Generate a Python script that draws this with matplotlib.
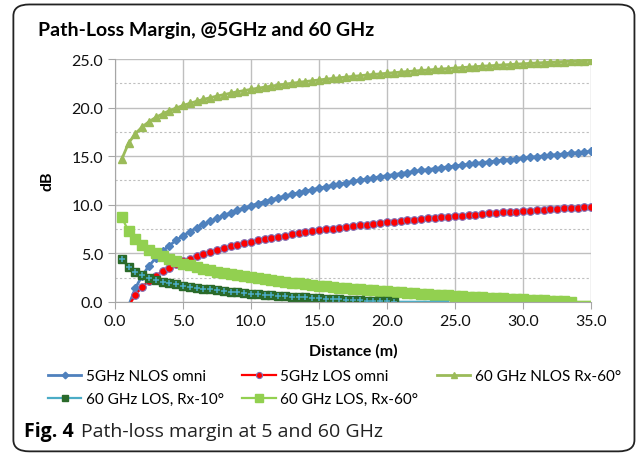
import matplotlib.pyplot as plt
from matplotlib.patches import FancyBboxPatch

plt.rcParams["font.family"] = ["Lato", "DejaVu Sans"]

# distance grid (m)
distance = [0.5, 1.0, 1.5, 2.0, 2.5, 3.0, 3.5, 4.0, 4.5, 5.0,
            5.5, 6.0, 6.5, 7.0, 7.5, 8.0, 8.5, 9.0, 9.5, 10.0,
            10.5, 11.0, 11.5, 12.0, 12.5, 13.0, 13.5, 14.0, 14.5, 15.0,
            15.5, 16.0, 16.5, 17.0, 17.5, 18.0, 18.5, 19.0, 19.5, 20.0,
            20.5, 21.0, 21.5, 22.0, 22.5, 23.0, 23.5, 24.0, 24.5, 25.0,
            25.5, 26.0, 26.5, 27.0, 27.5, 28.0, 28.5, 29.0, 29.5, 30.0,
            30.5, 31.0, 31.5, 32.0, 32.5, 33.0, 33.5, 34.0, 34.5, 35.0]

# 5 GHz series start at 1.0 m (first value lies under the axis)
nlos_5g = [-0.40, 1.41, 2.70, 3.70, 4.51, 5.20, 5.80, 6.33, 6.80,
           7.23, 7.61, 7.97, 8.30, 8.61, 8.90, 9.17, 9.43, 9.67, 9.90,
           10.12, 10.33, 10.53, 10.72, 10.90, 11.07, 11.24, 11.41, 11.56, 11.71,
           11.86, 12.00, 12.14, 12.27, 12.40, 12.53, 12.65, 12.77, 12.89, 13.00,
           13.11, 13.22, 13.32, 13.43, 13.53, 13.63, 13.72, 13.82, 13.91, 14.00,
           14.09, 14.17, 14.26, 14.34, 14.43, 14.51, 14.59, 14.66, 14.74, 14.81,
           14.89, 14.96, 15.03, 15.10, 15.17, 15.24, 15.31, 15.37, 15.44, 15.50]
los_5g = [-0.47, 0.70, 1.53, 2.18, 2.70, 3.15, 3.53, 3.87, 4.18,
          4.45, 4.70, 4.94, 5.15, 5.35, 5.54, 5.71, 5.88, 6.03, 6.18,
          6.32, 6.46, 6.58, 6.71, 6.82, 6.94, 7.05, 7.15, 7.25, 7.35,
          7.45, 7.54, 7.63, 7.71, 7.80, 7.88, 7.96, 8.03, 8.11, 8.18,
          8.25, 8.32, 8.39, 8.46, 8.52, 8.59, 8.65, 8.71, 8.77, 8.83,
          8.88, 8.94, 8.99, 9.05, 9.10, 9.15, 9.21, 9.26, 9.30, 9.35,
          9.40, 9.45, 9.49, 9.54, 9.58, 9.63, 9.67, 9.71, 9.76, 9.80]
nlos_60_rx60 = [14.70, 16.36, 17.33, 18.02, 18.56, 19.00, 19.37, 19.69, 19.97, 20.23,
                20.45, 20.66, 20.86, 21.03, 21.20, 21.35, 21.50, 21.64, 21.77, 21.89,
                22.01, 22.12, 22.23, 22.33, 22.43, 22.52, 22.61, 22.70, 22.78, 22.86,
                22.94, 23.02, 23.09, 23.16, 23.23, 23.30, 23.37, 23.43, 23.49, 23.55,
                23.61, 23.67, 23.73, 23.78, 23.84, 23.89, 23.94, 23.99, 24.04, 24.09,
                24.14, 24.18, 24.23, 24.28, 24.32, 24.36, 24.41, 24.45, 24.49, 24.53,
                24.57, 24.61, 24.65, 24.68, 24.72, 24.76, 24.79, 24.83, 24.86, 24.90]
# LOS Rx-10: markers up to 20.5 m, line runs on the axis to 24.5 m
los_60_rx10 = [4.40, 3.58, 3.10, 2.76, 2.49, 2.28, 2.09, 1.94, 1.80, 1.67,
               1.56, 1.46, 1.36, 1.27, 1.19, 1.11, 1.04, 0.97, 0.91, 0.85,
               0.79, 0.74, 0.68, 0.63, 0.59, 0.54, 0.49, 0.45, 0.41, 0.37,
               0.33, 0.29, 0.26, 0.22, 0.19, 0.15, 0.12, 0.09, 0.06, 0.03,
               0.00, 0.0, 0.0, 0.0, 0.0, 0.0, 0.0, 0.0, 0.0]
# LOS Rx-60: markers up to 33.5 m, line on the axis to 35 m
los_60_rx60 = [8.70, 7.27, 6.43, 5.84, 5.38, 5.00, 4.68, 4.40, 4.16, 3.94,
               3.75, 3.57, 3.40, 3.25, 3.10, 2.97, 2.85, 2.73, 2.62, 2.51,
               2.41, 2.31, 2.22, 2.13, 2.05, 1.97, 1.89, 1.81, 1.74, 1.67,
               1.60, 1.54, 1.47, 1.41, 1.35, 1.30, 1.24, 1.18, 1.13, 1.08,
               1.03, 0.98, 0.93, 0.88, 0.83, 0.79, 0.74, 0.70, 0.66, 0.62,
               0.58, 0.54, 0.50, 0.46, 0.42, 0.38, 0.34, 0.31, 0.27, 0.24,
               0.20, 0.17, 0.14, 0.10, 0.07, 0.04, 0.01, 0.0, 0.0, 0.0]

labels = ["5GHz NLOS omni", "5GHz LOS omni", "60 GHz NLOS Rx-60°",
          "60 GHz LOS, Rx-10°", "60 GHz LOS, Rx-60°"]
x_ticks = [0, 5, 10, 15, 20, 25, 30, 35]
y_ticks = [0, 5, 10, 15, 20, 25]

fig = plt.figure(figsize=(6.37, 4.56), dpi=100)
ax = fig.add_axes([0.1805, 0.336, 0.7475, 0.532])

d5 = distance[1:]
n10 = len(los_60_rx10)
n60 = len(los_60_rx60)

h0, = ax.plot(d5, nlos_5g, color="#4F81BD", lw=2.0, marker="D", ms=4.2,
              label=labels[0])
h1, = ax.plot(d5, los_5g, color="#FF0000", lw=1.6, marker="o", ms=5.5,
              mfc="#FF0000", mec="#7F6FB5", mew=0.8, label=labels[1])
h2, = ax.plot(distance, nlos_60_rx60, color="#9BBB59", lw=2.0, marker="^", ms=6,
              label=labels[2])
h4, = ax.plot(distance[:n60], los_60_rx60, color="#92D050", lw=1.6, marker="s", ms=6.5,
              markevery=list(range(67)), label=labels[4])
h3, = ax.plot(distance[:n10], los_60_rx10, color="#4BACC6", lw=1.6, marker="s", ms=6,
              mfc="#2A6A2A", mec="#2A6A2A", markevery=list(range(41)), label=labels[3])
ax.plot(distance[:41], los_60_rx10[:41], ls="none", marker="+", ms=4.8, mew=1.1,
        color="#4BACC6")

ax.set_xlim(0, 35)
ax.set_ylim(0, 25)
ax.set_xticks(x_ticks)
ax.set_xticklabels([f"{v:.1f}" for v in x_ticks])
ax.set_yticks(y_ticks)
ax.set_yticklabels([f"{v:.1f}" for v in y_ticks])
ax.set_yticks([2.5, 7.5, 12.5, 17.5, 22.5], minor=True)
ax.tick_params(axis="both", which="major", labelsize=11.5, color="#A6A6A6",
               length=5, labelcolor="#111111")
ax.tick_params(axis="y", which="minor", length=0)
ax.grid(True, which="major", color="#BFBFBF", lw=1.0)
ax.grid(True, which="minor", axis="y", color="#BFBFBF", lw=0.8, ls=(0, (2, 2)))
ax.set_axisbelow(True)
for s in ["top", "right"]:
    ax.spines[s].set_visible(False)
for s in ["left", "bottom"]:
    ax.spines[s].set_color("#A6A6A6")

ax.set_xlabel("Distance (m)", fontsize=11.5, fontweight="bold", labelpad=11)
ax.set_ylabel("dB", fontsize=11.5, fontweight="bold", labelpad=12)

fig.text(0.06, 0.934, "Path-Loss Margin, @5GHz and 60 GHz", fontsize=14,
         fontweight="bold", va="center")

handles = [h0, h3, h1, h4, h2]
fig.legend(handles, [h.get_label() for h in handles], ncol=3,
           loc="center", bbox_to_anchor=(0.525, 0.148), frameon=False,
           fontsize=11, handlelength=2.2, handletextpad=0.3, columnspacing=1.2,
           labelspacing=0.6, markerscale=0.8)

fig.text(0.038, 0.052, "Fig. 4", fontsize=14, fontweight="bold",
         family=["Open Sans", "DejaVu Sans"], va="center")
fig.text(0.127, 0.052, "Path-loss margin at 5 and 60 GHz", fontsize=14,
         family=["Open Sans", "DejaVu Sans"], va="center", color="#222222")

border = FancyBboxPatch((0.021, 0.008), 0.975, 0.98, transform=fig.transFigure,
                        boxstyle="round,pad=0,rounding_size=0.025",
                        fill=False, ec="#222222", lw=1.3)
fig.patches.append(border)

fig.savefig("out.png", dpi=100)
